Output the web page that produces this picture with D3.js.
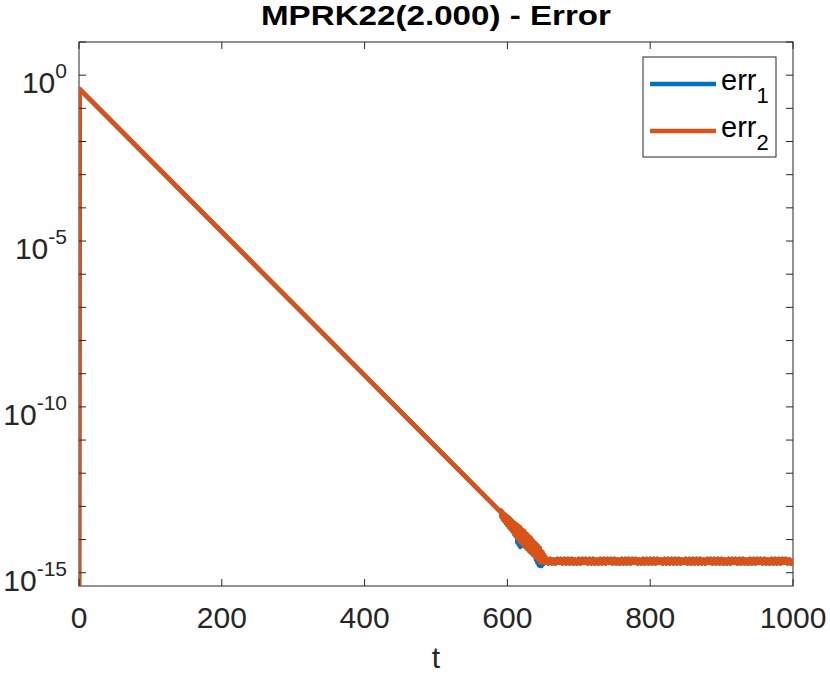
<!DOCTYPE html>
<html>
<head>
<meta charset="utf-8">
<script src="https://cdn.jsdelivr.net/npm/d3@7"></script>
<style>
  body { margin: 0; background: #fff; }
  svg { display: block; font-family: "Liberation Sans", Arial, Helvetica, sans-serif; }
</style>
</head>
<body>
<svg id="chart" width="830" height="675"></svg>
<script>
// start of run: error at t=0, peak, then straight decay (log scale)
const headT = [0, 1, 590];
const headErr = [1e-16, 0.38, 7.0e-14];

// round-off region before the plateau, one sample per time unit from t=591 to t=654
const noiseStart = 591;
const noiseErr2 = [
  7.4e-14, 4.8e-14, 6.6e-14, 4.0e-14, 6.0e-14, 3.6e-14, 5.6e-14, 3.1e-14, 5.0e-14, 2.8e-14,
  4.6e-14, 2.4e-14, 4.3e-14, 2.2e-14, 3.8e-14, 1.9e-14, 3.5e-14, 1.7e-14, 3.2e-14, 1.4e-14,
  3.0e-14, 1.3e-14, 2.8e-14, 1.1e-14, 2.5e-14, 1.0e-14, 2.4e-14, 8.5e-15, 2.1e-14, 7.8e-15,
  1.95e-14, 7.1e-15, 1.8e-14, 6.3e-15, 1.6e-14, 5.8e-15, 1.45e-14, 5.2e-15, 1.3e-14, 4.7e-15,
  1.2e-14, 4.3e-15, 1.07e-14, 3.9e-15, 9.3e-15, 3.5e-15, 8.3e-15, 3.2e-15, 7.6e-15, 2.9e-15,
  6.9e-15, 2.6e-15, 6.2e-15, 2.35e-15, 5.6e-15, 2.1e-15, 4.5e-15, 2.0e-15, 4.1e-15, 2.0e-15,
  3.5e-15, 2.0e-15, 3.0e-15, 2.0e-15];
const noiseErr1 = [
  7.4e-14, 4.8e-14, 6.6e-14, 4.0e-14, 6.0e-14, 3.6e-14, 5.6e-14, 3.1e-14, 5.0e-14, 2.8e-14,
  4.6e-14, 2.4e-14, 4.3e-14, 2.2e-14, 3.8e-14, 1.9e-14, 3.5e-14, 1.7e-14, 3.2e-14, 1.4e-14,
  3.0e-14, 1.3e-14, 2.8e-14, 8.0e-15, 2.5e-14, 7.0e-15, 2.4e-14, 6.0e-15, 2.1e-14, 6.5e-15,
  1.95e-14, 7.1e-15, 1.8e-14, 6.3e-15, 1.6e-14, 5.8e-15, 1.45e-14, 5.2e-15, 1.3e-14, 4.7e-15,
  1.2e-14, 4.3e-15, 1.07e-14, 3.9e-15, 9.3e-15, 3.5e-15, 8.3e-15, 3.2e-15, 7.6e-15, 2.5e-15,
  6.9e-15, 2.0e-15, 6.2e-15, 1.7e-15, 5.6e-15, 1.6e-15, 4.5e-15, 1.6e-15, 4.1e-15, 1.8e-15,
  3.5e-15, 2.0e-15, 3.0e-15, 2.0e-15];

// plateau at machine precision, sampled every 2.5 time units from t=655 to t=1000
const plateauStart = 655;
const plateauStep = 2.5;
const plateauErr = [
  2.6e-15, 1.9e-15, 2.6e-15, 1.9e-15, 2.5e-15, 1.9e-15, 2.6e-15, 2.0e-15, 2.6e-15, 1.9e-15,
  2.6e-15, 1.9e-15, 2.6e-15, 1.9e-15, 2.6e-15, 1.9e-15, 2.5e-15, 1.9e-15, 2.6e-15, 1.9e-15,
  2.6e-15, 2.0e-15, 2.6e-15, 1.9e-15, 2.6e-15, 1.9e-15, 2.6e-15, 1.9e-15, 2.5e-15, 1.9e-15,
  2.6e-15, 1.9e-15, 2.6e-15, 1.9e-15, 2.6e-15, 2.0e-15, 2.6e-15, 1.9e-15, 2.6e-15, 1.9e-15,
  2.5e-15, 1.9e-15, 2.6e-15, 1.9e-15, 2.6e-15, 1.9e-15, 2.6e-15, 1.9e-15, 2.6e-15, 2.0e-15,
  2.6e-15, 1.9e-15, 2.5e-15, 1.9e-15, 2.6e-15, 1.9e-15, 2.6e-15, 1.9e-15, 2.6e-15, 1.9e-15,
  2.6e-15, 1.9e-15, 2.6e-15, 2.0e-15, 2.5e-15, 1.9e-15, 2.6e-15, 1.9e-15, 2.6e-15, 1.9e-15,
  2.6e-15, 1.9e-15, 2.6e-15, 1.9e-15, 2.6e-15, 1.9e-15, 2.5e-15, 2.0e-15, 2.6e-15, 1.9e-15,
  2.6e-15, 1.9e-15, 2.6e-15, 1.9e-15, 2.6e-15, 1.9e-15, 2.6e-15, 1.9e-15, 2.5e-15, 1.9e-15,
  2.6e-15, 2.0e-15, 2.6e-15, 1.9e-15, 2.6e-15, 1.9e-15, 2.6e-15, 1.9e-15, 2.6e-15, 1.9e-15,
  2.5e-15, 1.9e-15, 2.6e-15, 1.9e-15, 2.6e-15, 2.0e-15, 2.6e-15, 1.9e-15, 2.6e-15, 1.9e-15,
  2.6e-15, 1.9e-15, 2.5e-15, 1.9e-15, 2.6e-15, 1.9e-15, 2.6e-15, 1.9e-15, 2.6e-15, 2.0e-15,
  2.6e-15, 1.9e-15, 2.6e-15, 1.9e-15, 2.5e-15, 1.9e-15, 2.6e-15, 1.9e-15, 2.6e-15, 1.9e-15,
  2.6e-15, 1.9e-15, 2.6e-15, 2.0e-15, 2.6e-15, 1.9e-15, 2.5e-15, 1.9e-15, 2.6e-15];

const xTicks = [0, 200, 400, 600, 800, 1000];
const yLabelExps = [0, -5, -10, -15];
const seriesNames = ['err', 'err'];
const seriesSubs = ['1', '2'];
const seriesColors = ['#0072BD', '#D95319'];

const svg = d3.select('#chart');
const margin = { top: 42, right: 37, bottom: 89, left: 79 };
const width = 830 - margin.left - margin.right;
const height = 675 - margin.top - margin.bottom;
const axisColor = '#262626';

const x = d3.scaleLinear().domain([0, 1000]).range([0, width]);
const y = d3.scaleLog().domain([Math.pow(10, -15.4), 10]).range([height, 0]);

const g = svg.append('g').attr('transform', `translate(${margin.left},${margin.top})`);

g.append('defs').append('clipPath').attr('id', 'clip')
  .append('rect').attr('width', width).attr('height', height);

function buildSeries(noiseErr) {
  const pts = headT.map((t, i) => [t, headErr[i]]);
  noiseErr.forEach((v, i) => pts.push([noiseStart + i, v]));
  plateauErr.forEach((v, i) => pts.push([plateauStart + i * plateauStep, v]));
  return pts;
}
const series = [buildSeries(noiseErr1), buildSeries(noiseErr2)];

const line = d3.line().x(d => x(d[0])).y(d => y(d[1]));

// box
g.append('rect').attr('width', width).attr('height', height)
  .attr('fill', 'none').attr('stroke', axisColor).attr('stroke-width', 1);

// data
g.append('g').attr('clip-path', 'url(#clip)')
  .selectAll('path')
  .data(series)
  .enter()
  .append('path')
  .attr('d', line)
  .attr('fill', 'none')
  .attr('stroke', (d, i) => seriesColors[i])
  .attr('stroke-width', 4.6)
  .attr('stroke-linejoin', 'round');

// x ticks (bottom and top, inward)
const tickLen = 7;
xTicks.forEach(t => {
  g.append('line').attr('x1', x(t)).attr('x2', x(t)).attr('y1', height).attr('y2', height - tickLen)
    .attr('stroke', axisColor);
  g.append('line').attr('x1', x(t)).attr('x2', x(t)).attr('y1', 0).attr('y2', tickLen)
    .attr('stroke', axisColor);
  g.append('text').attr('x', x(t)).attr('y', height + 42)
    .attr('text-anchor', 'middle').attr('font-size', 30).attr('fill', axisColor).text(t);
});

// y ticks at each decade
d3.range(-15, 2).forEach(e => {
  const yy = y(Math.pow(10, e));
  g.append('line').attr('x1', 0).attr('x2', tickLen).attr('y1', yy).attr('y2', yy).attr('stroke', axisColor);
  g.append('line').attr('x1', width).attr('x2', width - tickLen).attr('y1', yy).attr('y2', yy).attr('stroke', axisColor);
});

yLabelExps.forEach(e => {
  const yy = y(Math.pow(10, e));
  const txt = g.append('text').attr('x', -12).attr('y', yy + 18)
    .attr('text-anchor', 'end').attr('fill', axisColor).attr('font-size', 30);
  txt.append('tspan').text('10');
  txt.append('tspan').attr('font-size', 21).attr('dy', -15).text(e);
});

// axis label
g.append('text').attr('x', width / 2).attr('y', height + 82)
  .attr('text-anchor', 'middle').attr('font-size', 30).attr('fill', axisColor).text('t');

// title
svg.append('text').attr('x', margin.left + width / 2).attr('y', 25)
  .attr('text-anchor', 'middle').attr('font-size', 28).attr('font-weight', 'bold')
  .attr('fill', '#000').attr('textLength', 350).attr('lengthAdjust', 'spacingAndGlyphs')
  .text('MPRK22(2.000) - Error');

// legend
const leg = svg.append('g').attr('transform', 'translate(643,57)');
leg.append('rect').attr('width', 133).attr('height', 100)
  .attr('fill', '#fff').attr('stroke', axisColor).attr('stroke-width', 1);
seriesNames.forEach((name, i) => {
  const ly = 27 + i * 47;
  leg.append('line').attr('x1', 7).attr('x2', 73).attr('y1', ly).attr('y2', ly)
    .attr('stroke', seriesColors[i]).attr('stroke-width', 4.6);
  const txt = leg.append('text').attr('x', 78).attr('y', ly + 6)
    .attr('font-size', 29).attr('fill', '#000');
  txt.append('tspan').text(name);
  txt.append('tspan').attr('font-size', 22).attr('dy', 13).text(seriesSubs[i]);
});
</script>
</body>
</html>
